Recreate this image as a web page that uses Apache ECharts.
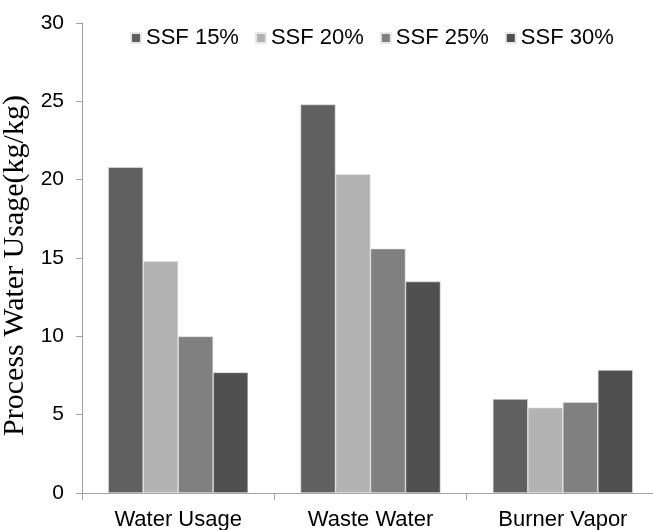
<!DOCTYPE html>
<html>
<head>
<meta charset="utf-8">
<script src="https://cdn.jsdelivr.net/npm/echarts@6/dist/echarts.min.js"></script>
<style>
html,body{margin:0;padding:0;background:#fff;}
#chart{width:653px;height:530px;}
</style>
</head>
<body>
<div id="chart"></div>
<script>
var categories = ['Water Usage', 'Waste Water', 'Burner Vapor'];
var seriesNames = ['SSF 15%', 'SSF 20%', 'SSF 25%', 'SSF 30%'];
var ssf15 = [20.8, 24.8, 6.0];
var ssf20 = [14.8, 20.35, 5.45];
var ssf25 = [10.0, 15.6, 5.8];
var ssf30 = [7.7, 13.5, 7.85];
var yTicks = [0, 5, 10, 15, 20, 25, 30];

var colors = ['#606060', '#b3b3b3', '#808080', '#505050'];
var values = [ssf15, ssf20, ssf25, ssf30];

var chart = echarts.init(document.getElementById('chart'), null, {renderer: 'canvas'});
var axisColor = '#a0a0a0';
var option = {
  animation: false,
  backgroundColor: '#ffffff',
  color: colors,
  legend: {
    data: seriesNames,
    top: 22,
    left: 125,
    itemWidth: 10,
    itemHeight: 10,
    itemGap: 16,
    icon: 'rect',
    textStyle: {fontFamily: 'Liberation Sans', fontSize: 22, color: '#000', lineHeight: 22}
  },
  grid: {left: 82, right: -6, top: 23, bottom: 37, containLabel: false, outerBoundsMode: 'none'},
  xAxis: {
    type: 'category',
    data: categories,
    axisLine: {lineStyle: {color: axisColor, width: 1}},
    axisTick: {show: true, length: 7, lineStyle: {color: axisColor}},
    axisLabel: {fontFamily: 'Liberation Sans', fontSize: 22, color: '#000', margin: 16}
  },
  yAxis: {
    type: 'value',
    min: yTicks[0],
    max: yTicks[yTicks.length - 1],
    interval: yTicks[1] - yTicks[0],
    name: 'Process Water Usage(kg/kg)',
    nameLocation: 'middle',
    nameRotate: 90,
    nameGap: 43,
    nameTextStyle: {fontFamily: 'Liberation Serif', fontSize: 30, color: '#000', padding: [0, 15, 0, 0]},
    splitLine: {show: false},
    axisLine: {show: true, lineStyle: {color: axisColor, width: 1}},
    axisTick: {show: true, length: 6, lineStyle: {color: axisColor}},
    axisLabel: {fontFamily: 'Liberation Sans', fontSize: 21, color: '#000', margin: 18}
  },
  series: seriesNames.map(function (n, i) {
    return {
      name: n,
      type: 'bar',
      data: values[i],
      barWidth: 35,
      barGap: '0%',
      itemStyle: {color: colors[i], borderColor: '#e8e8e8', borderWidth: 0.6}
    };
  })
};
chart.setOption(option);
</script>
</body>
</html>
